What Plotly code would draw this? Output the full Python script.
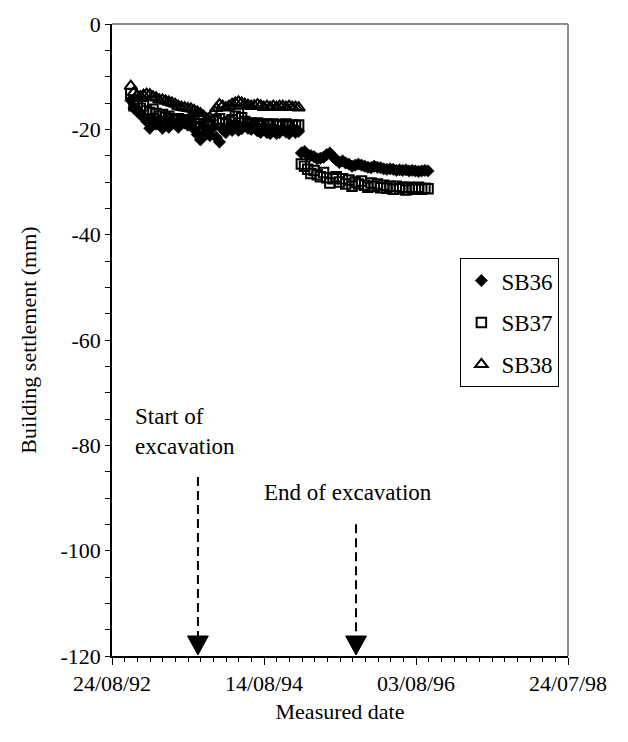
import plotly.graph_objects as go

# ---------------- data ----------------
dates_seg1 = ["1992-11-21", "1992-12-06", "1992-12-21", "1993-01-05", "1993-01-20", "1993-02-04",
              "1993-02-19", "1993-03-06", "1993-03-21", "1993-04-05", "1993-04-20", "1993-05-05",
              "1993-05-20", "1993-06-04", "1993-06-19", "1993-07-04", "1993-07-19", "1993-08-03",
              "1993-08-18", "1993-09-02", "1993-09-17", "1993-10-02", "1993-10-17", "1993-11-01",
              "1993-11-16", "1993-12-01", "1993-12-16", "1993-12-31", "1994-01-15", "1994-01-30",
              "1994-02-14", "1994-03-01", "1994-03-16", "1994-03-31", "1994-04-15", "1994-04-30",
              "1994-05-15", "1994-05-30", "1994-06-14", "1994-06-29", "1994-07-14", "1994-07-29",
              "1994-08-13", "1994-08-28", "1994-09-12", "1994-09-27", "1994-10-12", "1994-10-27",
              "1994-11-11", "1994-11-26", "1994-12-11", "1994-12-26", "1995-01-10", "1995-01-25"]
dates_seg2 = ["1995-02-07", "1995-02-22", "1995-03-09", "1995-03-24", "1995-04-08", "1995-04-23",
              "1995-05-08", "1995-05-23", "1995-06-07", "1995-06-22", "1995-07-07", "1995-07-22",
              "1995-08-06", "1995-08-21", "1995-09-05", "1995-09-20", "1995-10-05", "1995-10-20",
              "1995-11-04", "1995-11-19", "1995-12-04", "1995-12-19", "1996-01-03", "1996-01-18",
              "1996-02-02", "1996-02-17", "1996-03-03", "1996-03-18", "1996-04-02", "1996-04-17",
              "1996-05-02", "1996-05-17", "1996-06-01", "1996-06-16", "1996-07-01", "1996-07-16",
              "1996-07-31", "1996-08-15", "1996-08-30", "1996-09-14", "1996-09-29"]

sb36_seg1 = [-14.5, -16.0, -16.5, -17.2, -17.5, -18.5, -19.8, -18.0, -19.0, -18.2,
             -19.8, -18.0, -19.6, -18.4, -19.0, -19.6, -18.3, -18.8, -19.2, -18.0,
             -20.0, -21.0, -22.0, -19.5, -20.8, -21.2, -19.6, -21.5, -22.4, -20.0,
             -20.6, -19.4, -20.2, -19.0, -20.2, -19.9, -19.0, -19.8, -20.0, -19.0,
             -20.3, -20.6, -19.4, -20.6, -20.8, -19.6, -20.8, -20.6, -19.8, -20.5,
             -20.8, -19.7, -20.6, -20.4]
sb36_seg2 = [-24.5, -24.2, -24.8, -25.0, -25.2, -25.6, -25.5, -25.3, -24.8, -24.5,
             -25.2, -25.8, -26.3, -26.0, -26.4, -26.6, -27.0, -26.8, -26.6, -26.8,
             -27.0, -27.2, -27.3, -27.0, -27.2, -27.3, -27.5, -27.6, -27.5, -27.6,
             -27.8, -27.7, -27.8, -27.7, -27.9, -27.8, -27.9, -28.0, -27.9, -27.8,
             -27.9]

sb37_seg1 = [-13.2, -15.5, -14.8, -16.0, -15.5, -16.5, -16.8, -16.2, -17.0, -17.5,
             -17.2, -17.8, -17.5, -18.0, -18.3, -18.0, -18.5, -18.2, -18.6, -18.8,
             -19.0, -19.5, -19.8, -19.5, -19.2, -19.0, -18.5, -18.2, -18.0, -18.8,
             -19.0, -18.5, -18.2, -17.5, -17.0, -17.8, -18.5, -19.0, -18.8, -19.2,
             -18.8, -19.0, -19.3, -19.0, -19.2, -19.0, -19.4, -19.1, -19.3, -19.0,
             -19.4, -19.2, -19.3, -19.2]
sb37_seg2 = [-26.6, -27.0, -27.6, -28.4, -27.8, -28.6, -29.0, -28.2, -29.2, -30.2,
             -29.4, -29.0, -30.0, -29.4, -30.4, -29.6, -30.8, -30.0, -30.4, -29.8,
             -30.6, -31.0, -30.2, -30.8, -30.4, -31.1, -30.6, -31.2, -30.8, -31.4,
             -30.8, -31.3, -31.0, -31.5, -31.0, -31.2, -31.4, -31.0, -31.4, -31.2,
             -31.3]

sb38_seg1 = [-11.8, -13.0, -13.6, -13.8, -13.5, -13.3, -13.4, -13.8, -14.0, -14.4,
             -14.4, -14.6, -14.8, -15.0, -15.2, -15.6, -15.8, -15.9, -16.0, -16.1,
             -16.4, -16.7, -17.0, -17.5, -18.0, -17.8, -17.0, -16.0, -15.3, -15.6,
             -15.9, -15.6, -15.2, -15.0, -14.8, -15.0, -15.2, -15.4, -15.6, -15.5,
             -15.3, -15.5, -15.8, -15.6, -15.8, -15.6, -15.8, -15.6, -15.6, -15.8,
             -15.6, -15.8, -15.8, -15.9]

x_tick_vals = ["1992-08-24", "1994-08-14", "1996-08-03", "1998-07-24"]
x_tick_text = ["24/08/92", "14/08/94", "03/08/96", "24/07/98"]
y_tick_vals = [0, -20, -40, -60, -80, -100, -120]
y_tick_text = ["0", "-20", "-40", "-60", "-80", "-100", "-120"]

event_dates = ["1993-10-05", "1995-10-24"]
event_labels = ["Start of<br>excavation", "End of excavation"]
event_arrow_tops = [-86.0, -95.0]

FONT = "Liberation Serif, Times New Roman, Tinos, DejaVu Serif, serif"
DAY_MS = 86400000

# ---------------- figure ----------------
fig = go.Figure()

fig.add_trace(go.Scatter(
    x=dates_seg1 + dates_seg2, y=sb36_seg1 + sb36_seg2, mode="markers", name="SB36",
    legendgroup="a",
    marker=dict(symbol="diamond", size=9.5, color="black", line=dict(color="black", width=0.6))))
fig.add_trace(go.Scatter(
    x=dates_seg1 + dates_seg2, y=sb37_seg1 + sb37_seg2, mode="markers", name="SB37",
    legendgroup="b",
    marker=dict(symbol="square-open", size=9.5, color="black", line=dict(color="black", width=2))))
fig.add_trace(go.Scatter(
    x=dates_seg1, y=sb38_seg1, mode="markers", name="SB38",
    legendgroup="c",
    marker=dict(symbol="triangle-up-open", size=11, color="black", line=dict(color="black", width=2))))

shapes = []
# grey plot-area border on top and right
shapes.append(dict(type="line", xref="paper", yref="paper", x0=0, x1=1, y0=1, y1=1,
                   line=dict(color="#8c8c8c", width=2)))
shapes.append(dict(type="line", xref="paper", yref="paper", x0=1, x1=1, y0=0, y1=1,
                   line=dict(color="#8c8c8c", width=2)))
# event arrows: dashed shaft + filled head
for d, top in zip(event_dates, event_arrow_tops):
    shapes.append(dict(type="line", xref="x", yref="y", x0=d, x1=d, y0=top, y1=-116.4,
                       line=dict(color="black", width=2, dash="9px,5px")))
    shapes.append(dict(type="path", xref="x", yref="y", xsizemode="pixel", ysizemode="pixel",
                       xanchor=d, yanchor=-120, path="M -10.4,20 L 10.4,20 L 0,1 Z",
                       fillcolor="black", line=dict(color="black", width=1)))

annotations = [
    dict(xref="paper", yref="paper", x=0.0454, y=0.3557, xanchor="left", yanchor="middle",
         align="left", text=event_labels[0], showarrow=False, font=dict(family=FONT, size=23, color="black")),
    dict(xref="paper", yref="paper", x=0.3283, y=0.2586, xanchor="left", yanchor="middle",
         align="left", text=event_labels[1], showarrow=False, font=dict(family=FONT, size=23, color="black")),
]

fig.update_layout(
    width=628, height=742,
    margin=dict(l=112, r=60, t=21, b=86),
    paper_bgcolor="white", plot_bgcolor="white",
    font=dict(family=FONT, size=22, color="black"),
    shapes=shapes, annotations=annotations,
    showlegend=True,
    legend=dict(x=0.764, y=0.6296, xanchor="left", yanchor="top", bgcolor="white",
                bordercolor="black", borderwidth=1, font=dict(family=FONT, size=23),
                traceorder="grouped", tracegroupgap=9),
    xaxis=dict(type="date", range=["1992-08-24", "1998-07-24"],
               tickmode="array", tickvals=x_tick_vals, ticktext=x_tick_text,
               showline=True, linecolor="black", linewidth=1.5, showgrid=False, zeroline=False,
               ticks="outside", ticklen=7, tickwidth=1.2, tickcolor="black",
               minor=dict(tickmode="linear", tick0="1992-08-24", dtick=60 * DAY_MS,
                          ticks="outside", ticklen=4, tickwidth=1, tickcolor="black", showgrid=False),
               title=dict(text="Measured date", standoff=8, font=dict(size=22))),
    yaxis=dict(range=[-120, 0], tickmode="array", tickvals=y_tick_vals, ticktext=y_tick_text,
               showline=True, linecolor="black", linewidth=1.5, showgrid=False, zeroline=False,
               ticks="outside", ticklen=5, tickwidth=1.2, tickcolor="black",
               minor=dict(tickmode="linear", tick0=0, dtick=5, ticks="outside", ticklen=5,
                          tickwidth=1, tickcolor="black", showgrid=False),
               title=dict(text="Building settlement (mm)", standoff=18, font=dict(size=22))),
)

fig.write_html("out.html")
